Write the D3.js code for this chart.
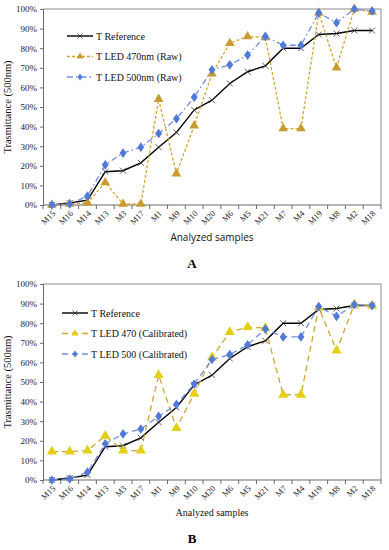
<!DOCTYPE html>
<html>
<head>
<meta charset="utf-8">
<script src="https://cdn.jsdelivr.net/npm/d3@7"></script>
<style>
  body { margin: 0; background: #fff; }
  svg { display: block; }
</style>
</head>
<body>
<div id="chart"></div>
<script>
var samples = ["M15", "M16", "M14", "M13", "M3", "M17", "M1", "M9", "M10", "M20",
  "M6", "M5", "M21", "M7", "M4", "M19", "M8", "M2", "M18"];

var yTicks = [0, 10, 20, 30, 40, 50, 60, 70, 80, 90, 100];

var tReference = [0, 1, 2.5, 17, 17.5, 21.5, 29.5, 37, 48.5, 53.5, 62, 68, 71, 80, 80, 87, 87.5, 89, 89];

var led470Raw = [0, 0.5, 1, 11.5, 0.5, 0.5, 54, 16, 40.5, 67, 82.5, 86, 85.5, 39, 39, 98, 70, 100, 98.5];
var led500Raw = [0, 0.5, 4.5, 20.5, 26.5, 29.5, 36.5, 44, 55, 69, 71.5, 76.5, 86, 81.5, 81.5, 98, 93, 100, 99];

var led470Cal = [14.5, 14.5, 15, 22.5, 15, 15, 53.5, 26.5, 44, 62.5, 75.5, 78, 77.5, 43.5, 43.5, 88, 66, 89.5, 89];
var led500Cal = [0, 0.5, 4, 18.5, 23.5, 26, 32.5, 38.5, 49, 61.5, 64, 69, 77, 73, 73, 88.5, 83.5, 89.5, 89];

var serif = "'Liberation Serif', 'Times New Roman', serif";
var sans = "'Open Sans', 'Liberation Sans', sans-serif";

var svg = d3.select("#chart")
  .append("svg")
  .attr("width", 389)
  .attr("height", 550);

function drawPanel(cfg) {
  var x = d3.scaleBand()
    .domain(samples)
    .range([43, 381]);
  var y = d3.scaleLinear()
    .domain([0, 100])
    .range([cfg.bottom, cfg.top]);

  var g = svg.append("g");

  // frame (top and right)
  g.append("path")
    .attr("d", "M43," + cfg.top + "H381V" + cfg.bottom)
    .attr("fill", "none")
    .attr("stroke", "#8c8c8c")
    .attr("stroke-width", 1);

  // y axis
  var yAxis = d3.axisLeft(y)
    .tickValues(yTicks)
    .tickSize(3)
    .tickFormat(function(d) { return d + "%"; });
  var ya = g.append("g")
    .attr("transform", "translate(43,0)")
    .call(yAxis);
  ya.select(".domain").attr("stroke", "#6b6b6b");
  ya.selectAll(".tick line").attr("stroke", "#6b6b6b");
  ya.selectAll("text")
    .attr("fill", "#222")
    .style("font-family", serif)
    .style("font-size", "9px");

  // x axis: ticks on band edges
  var xa = g.append("g")
    .attr("transform", "translate(0," + cfg.bottom + ")");
  xa.append("line")
    .attr("x1", 43).attr("x2", 381)
    .attr("stroke", "#6b6b6b");
  xa.selectAll(".xt")
    .data(samples.concat(["end"]))
    .enter()
    .append("line")
    .attr("x1", function(d, i) { return 43 + i * x.bandwidth(); })
    .attr("x2", function(d, i) { return 43 + i * x.bandwidth(); })
    .attr("y1", 0)
    .attr("y2", 4)
    .attr("stroke", "#6b6b6b");
  xa.selectAll(".xl")
    .data(samples)
    .enter()
    .append("text")
    .attr("transform", function(d) {
      return "translate(" + (x(d) + x.bandwidth() / 2 + 4) + ",9) rotate(-45)";
    })
    .attr("text-anchor", "end")
    .attr("fill", "#222")
    .style("font-family", serif)
    .style("font-size", "8.5px")
    .text(function(d) { return d; });

  var cx = function(d, i) { return x(samples[i]) + x.bandwidth() / 2; };

  // series
  cfg.series.forEach(function(s) {
    var line = d3.line()
      .x(cx)
      .y(function(d) { return y(d); });
    g.append("path")
      .datum(s.values)
      .attr("d", line)
      .attr("fill", "none")
      .attr("stroke", s.line)
      .attr("stroke-width", s.width)
      .attr("stroke-dasharray", s.dash);

    var sym = s.marker === "cross" ? null :
      d3.symbol().type(s.marker === "tri" ? d3.symbolTriangle : d3.symbolDiamond).size(s.size);

    g.selectAll(null)
      .data(s.values)
      .enter()
      .append("path")
      .attr("transform", function(d, i) {
        return "translate(" + cx(d, i) + "," + y(d) + ")" + (s.marker === "diamond" ? " scale(1,0.8)" : "");
      })
      .attr("d", sym ? sym : "M-3,-3L3,3M-3,3L3,-3")
      .attr("fill", sym ? s.fill : "none")
      .attr("stroke", sym ? "none" : "#333")
      .attr("stroke-width", 0.8);
  });

  // legend
  var lg = g.append("g");
  cfg.series.forEach(function(s, i) {
    var ly = cfg.legendY + i * 20.5;
    lg.append("line")
      .attr("x1", cfg.legendX)
      .attr("x2", cfg.legendX + 26)
      .attr("y1", ly).attr("y2", ly)
      .attr("stroke", s.line)
      .attr("stroke-width", s.width)
      .attr("stroke-dasharray", s.dash);
    var mx = cfg.legendX + 13;
    if (s.marker === "cross") {
      lg.append("path")
        .attr("d", "M" + (mx - 2.5) + "," + (ly - 2.5) + "L" + (mx + 2.5) + "," + (ly + 2.5) +
          "M" + (mx - 2.5) + "," + (ly + 2.5) + "L" + (mx + 2.5) + "," + (ly - 2.5))
        .attr("stroke", "#333")
        .attr("stroke-width", 0.8);
    } else {
      lg.append("path")
        .attr("transform", "translate(" + mx + "," + ly + ")" + (s.marker === "diamond" ? " scale(1,0.8)" : ""))
        .attr("d", d3.symbol().type(s.marker === "tri" ? d3.symbolTriangle : d3.symbolDiamond).size(s.size * 0.5))
        .attr("fill", s.fill);
    }
    lg.append("text")
      .attr("x", cfg.legendX + 29)
      .attr("y", ly + 3.5)
      .attr("fill", "#111")
      .style("font-family", serif)
      .style("font-size", "10px")
      .text(s.name);
  });

  // axis titles
  g.append("text")
    .attr("transform", "translate(11," + ((cfg.top + cfg.bottom) / 2) + ") rotate(-90)")
    .attr("text-anchor", "middle")
    .attr("fill", "#111")
    .style("font-family", serif)
    .style("font-size", "10.5px")
    .text("Trasmittance (500nm)");

  g.append("text")
    .attr("x", 212)
    .attr("y", cfg.bottom + 36)
    .attr("text-anchor", "middle")
    .attr("fill", "#111")
    .style("font-family", cfg.titleFont)
    .style("font-size", "10px")
    .text("Analyzed samples");

  g.append("text")
    .attr("x", 192)
    .attr("y", cfg.bottom + 63)
    .attr("text-anchor", "middle")
    .attr("fill", "#000")
    .style("font-family", serif)
    .style("font-weight", "bold")
    .style("font-size", "13px")
    .text(cfg.label);
}

drawPanel({
  top: 9, bottom: 205, label: "A", titleFont: sans,
  legendX: 67, legendY: 36,
  series: [
    { name: "T Reference", values: tReference, line: "#000", width: 1.4, dash: null, marker: "cross" },
    { name: "T LED 470nm (Raw)", values: led470Raw, line: "#d1a531", width: 1.3, dash: "3,2", marker: "tri", fill: "#c99a2e", size: 40 },
    { name: "T LED 500nm (Raw)", values: led500Raw, line: "#6e8fe0", width: 1.3, dash: "6,3,1.5,3", marker: "diamond", fill: "#5079d8", size: 42 }
  ]
});

drawPanel({
  top: 284, bottom: 480, label: "B", titleFont: serif,
  legendX: 62, legendY: 313,
  series: [
    { name: "T Reference", values: tReference, line: "#000", width: 1.4, dash: null, marker: "cross" },
    { name: "T LED 470 (Calibrated)", values: led470Cal, line: "#d1a531", width: 1.3, dash: "6,4", marker: "tri", fill: "#e3cf14", size: 45 },
    { name: "T LED 500 (Calibrated)", values: led500Cal, line: "#6e8fe0", width: 1.3, dash: "6,4", marker: "diamond", fill: "#5079d8", size: 42 }
  ]
});
</script>
</body>
</html>
